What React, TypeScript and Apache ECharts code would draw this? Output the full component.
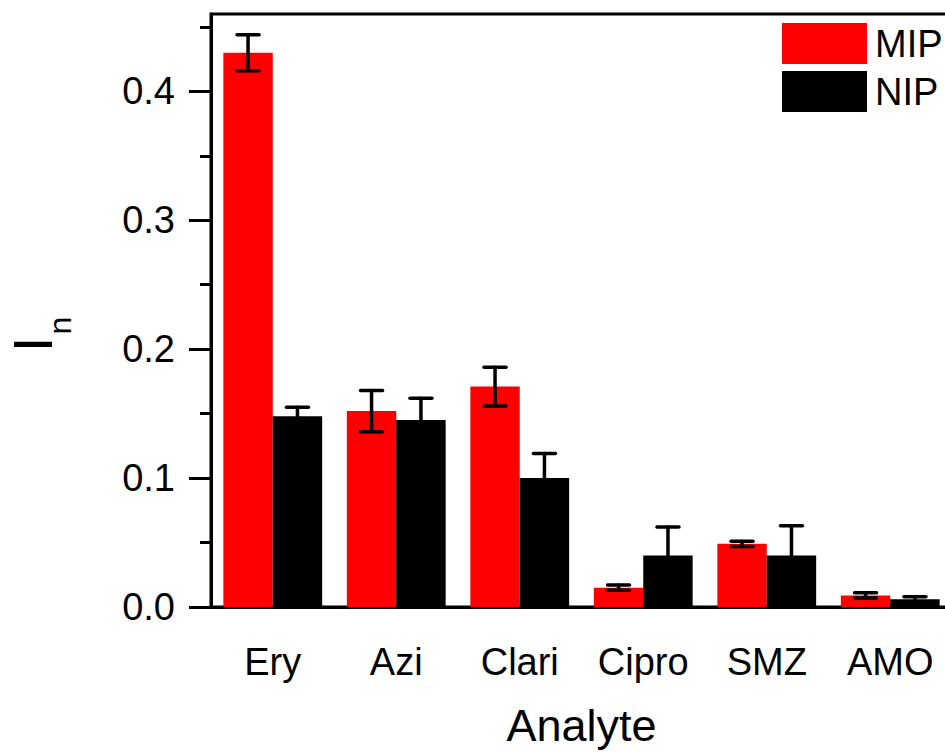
import React, { useEffect, useRef } from "react";
import * as echarts from "echarts";

// Normalised response I_n of each analyte on the imprinted (MIP) and non-imprinted (NIP) polymer
const categories = ["Ery", "Azi", "Clari", "Cipro", "SMZ", "AMO"];
const mipValues = [0.43, 0.152, 0.171, 0.015, 0.049, 0.009];
const mipErrors = [0.014, 0.016, 0.015, 0.002, 0.002, 0.002];
const nipValues = [0.148, 0.145, 0.1, 0.04, 0.04, 0.006];
const nipErrors = [0.007, 0.017, 0.019, 0.022, 0.023, 0.002];

const yMajorTicks = [0, 0.1, 0.2, 0.3, 0.4];
const yMinorTicks = [0.05, 0.15, 0.25, 0.35, 0.45];

const FONT = "'Liberation Sans', Arial, Helvetica, sans-serif";

function errorBarSeries(name: string, values: number[], errors: number[], side: number) {
  return {
    type: "custom",
    name: name + " error",
    z: 10,
    encode: { x: 0, y: 1 },
    data: values.map((v, i) => [i, v, errors[i]]),
    renderItem: (_params: any, api: any) => {
      const idx = api.value(0);
      const v = api.value(1);
      const e = api.value(2);
      const band = api.size([1, 0])[0];
      const offset = side * band * 0.2;
      const top = api.coord([idx, v + e]);
      const bot = api.coord([idx, v - e]);
      const x = top[0] + offset;
      const half = 11;
      const style = { stroke: "#000", lineWidth: 3.5, lineCap: "round" };
      return {
        type: "group",
        children: [
          { type: "line", shape: { x1: x, y1: top[1], x2: x, y2: bot[1] }, style },
          { type: "line", shape: { x1: x - half, y1: top[1], x2: x + half, y2: top[1] }, style },
          { type: "line", shape: { x1: x - half, y1: bot[1], x2: x + half, y2: bot[1] }, style },
        ],
      };
    },
  };
}

export default function App() {
  const ref = useRef<HTMLDivElement>(null);

  useEffect(() => {
    if (!ref.current) return;
    const chart = echarts.init(ref.current, null, { renderer: "svg" });
    chart.setOption({
      animation: false,
      backgroundColor: "#fff",
      textStyle: { fontFamily: FONT },
      grid: {
        left: 211,
        top: 14,
        right: -7,
        bottom: 146,
        outerBoundsMode: "none",
        containLabel: false,
        show: true,
        borderColor: "#000",
        borderWidth: 3,
      },
      legend: {
        data: ["MIP", "NIP"],
        orient: "vertical",
        left: 782,
        top: 23,
        padding: 0,
        itemGap: 7,
        itemWidth: 85,
        itemHeight: 41,
        icon: "rect",
        textStyle: { fontFamily: FONT, fontSize: 38, color: "#000", padding: [0, 0, 0, 3] },
      },
      xAxis: {
        type: "category",
        data: categories,
        name: "Analyte",
        nameLocation: "middle",
        nameGap: 96,
        nameTextStyle: { fontFamily: FONT, fontSize: 45, color: "#000" },
        axisLine: { lineStyle: { color: "#000", width: 3 } },
        axisTick: { alignWithLabel: true, length: 22, lineStyle: { color: "#000", width: 3 } },
        axisLabel: { fontFamily: FONT, fontSize: 38, color: "#000", margin: 36 },
        splitLine: { show: false },
      },
      yAxis: [
        {
          type: "value",
          min: 0,
          max: 0.46,
          interval: 0.1,
          axisLine: { show: true, lineStyle: { color: "#000", width: 3 } },
          axisTick: {
            show: true,
            customValues: yMajorTicks,
            length: 22,
            lineStyle: { color: "#000", width: 3 },
          },
          axisLabel: {
            customValues: yMajorTicks,
            fontFamily: FONT,
            fontSize: 38,
            color: "#000",
            margin: 36,
            formatter: (v: number) => v.toFixed(1),
          },
          splitLine: { show: false },
        },
        {
          type: "value",
          position: "left",
          min: 0,
          max: 0.46,
          interval: 0.05,
          axisLine: { show: false },
          axisTick: {
            show: true,
            customValues: yMinorTicks,
            length: 11,
            lineStyle: { color: "#000", width: 3 },
          },
          axisLabel: { show: false },
          splitLine: { show: false },
        },
      ],
      graphic: [
        {
          type: "text",
          x: 32,
          y: 344.5,
          rotation: Math.PI / 2,
          style: {
            text: "I",
            font: `56px ${FONT}`,
            fill: "#000",
            textAlign: "center",
            textVerticalAlign: "middle",
          },
        },
        {
          type: "text",
          x: 60,
          y: 325.5,
          rotation: Math.PI / 2,
          style: {
            text: "n",
            font: `32px ${FONT}`,
            fill: "#000",
            textAlign: "center",
            textVerticalAlign: "middle",
          },
        },
      ],
      series: [
        {
          type: "bar",
          name: "MIP",
          data: mipValues,
          barGap: "0%",
          barCategoryGap: "20%",
          itemStyle: { color: "#ff0000" },
        },
        {
          type: "bar",
          name: "NIP",
          data: nipValues,
          barGap: "0%",
          barCategoryGap: "20%",
          itemStyle: { color: "#000000" },
        },
        errorBarSeries("MIP", mipValues, mipErrors, -1),
        errorBarSeries("NIP", nipValues, nipErrors, 1),
      ],
    });
    return () => chart.dispose();
  }, []);

  return (
    <div
      ref={ref}
      style={{ position: "absolute", left: 0, top: 0, width: 945, height: 753 }}
    />
  );
}
